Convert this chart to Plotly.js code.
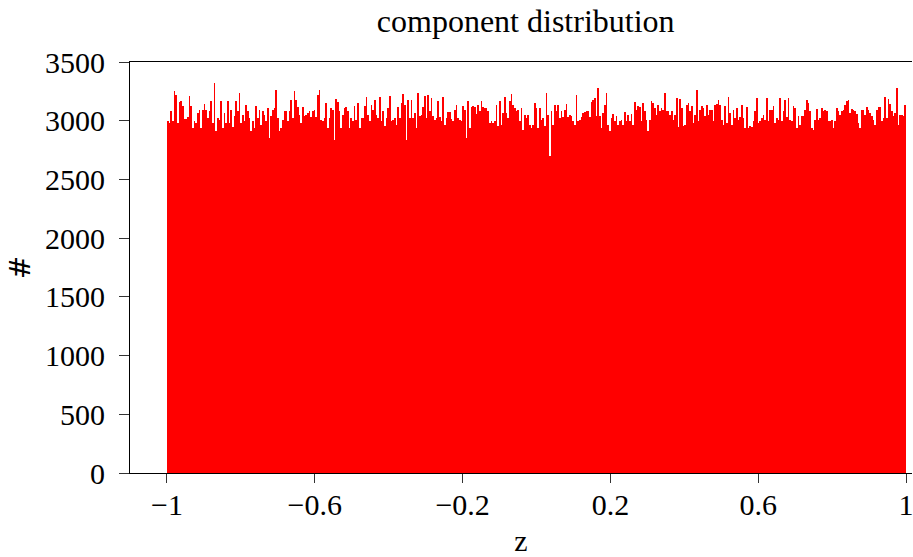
<!DOCTYPE html>
<html>
<head>
<meta charset="utf-8">
<script src="https://cdn.plot.ly/plotly-3.0.1.min.js"></script>
<style>
  html, body { margin: 0; padding: 0; background: #fff; }
  #chart { width: 913px; height: 557px; }
</style>
</head>
<body>
<div id="chart"></div>
<script>
// Histogram range (bin edges span this interval, bins of equal width)
const binStart = -1;
const binEnd = 1;

// Bin counts, left to right
const counts = [
  2995,2981,3080,2995,3251,3222,2981,3160,3165,3123,3018,3018,3029,3208,3123,2938,2995,2981,3066,3094,
  2938,3094,3143,3094,3024,3080,3165,2981,3321,2910,3024,3009,3171,2938,3066,2981,3171,2981,3094,2944,
  3038,3165,3080,3236,2981,3052,2995,3137,3080,3024,2910,2995,2938,3123,3024,3094,2967,3080,3052,2995,
  3109,2853,3038,3094,3109,3265,3024,2910,2938,3009,3080,3080,2995,
  3080,3180,3024,3251,3180,3114,3052,2981,3114,3038,3052,3066,3080,3029,3080,3089,3029,3222,3265,3009,
  2995,3024,3151,2938,3024,3109,3094,2839,3188,3160,3080,2938,3052,3109,3114,3080,2938,3024,2995,3123,
  3009,3151,2938,3024,3024,3123,3199,3052,2995,3131,3094,3180,3052,3024,3199,2995,3080,2953,3024,3109,
  3208,2995,3009,3024,2967,3114,3024,3151,3228,3137,2839,3180,3024,3180,3024,
  3066,2938,3236,3038,3046,3114,3208,3024,3216,3080,3194,3038,3009,3024,3165,3029,2995,3199,2967,3024,
  3075,3075,3018,2995,3094,3137,3024,3009,2995,3123,3094,2853,3171,2938,3114,3123,3114,3058,3131,3080,
  3165,3114,3109,3109,3086,2981,2995,2981,2995,3131,2953,3171,2967,3066,3199,3066,3024,3171,3228,3137,
  3109,3080,3094,2995,3109,2924,3052,3024,3046,2967,2938,2967,3151,3109,2938,
  3109,3009,3024,2953,3236,3052,2697,3086,2967,3137,3080,3137,3024,3080,3029,3094,3143,3029,3046,3038,
  3001,2967,3222,2995,3009,3029,3066,3075,3080,3080,3029,3160,3180,3194,3038,3279,3038,2938,3066,3137,
  3236,2967,2910,3024,3058,2995,3038,2967,2995,3009,2967,3075,2995,3052,2995,3058,2967,3160,3094,3123,
  3114,2995,3151,3080,3009,2910,3009,3171,3151,3109,3052,3137,3080,3109,3094,
  3236,3080,3080,3052,3080,3009,3052,3194,2944,3188,3109,2953,2967,3137,3151,3080,3123,2981,3052,3265,
  2995,3094,3123,3109,3038,3137,3052,3094,3094,2995,3137,3143,3180,3137,3009,2967,3123,2981,3199,3066,
  2967,3094,3024,3109,3009,3029,3131,3024,2938,3114,2938,2953,2944,3001,3080,3194,2981,2995,3024,3052,
  3009,3194,2995,3094,3094,3123,2981,3024,3009,3194,2995,3086,3180,3029,3194,
  3009,2995,3123,3109,2938,3038,2967,3038,3038,3094,3180,3151,3080,2938,2924,3009,3103,3009,3024,3109,
  3080,3094,3080,2995,2995,3009,2938,2995,3109,3080,3052,3080,3094,3131,3165,3180,3066,3103,3094,3080,
  3058,2981,2938,3094,3094,3052,3114,3094,3066,3038,3009,2967,3094,3114,3114,2995,3024,3199,3024,3188,
  3143,3080,3038,3066,3279,2967,3052,3046,3038,3131
];

// Tick values and labels
const xTickVals = [-1, -0.6, -0.2, 0.2, 0.6, 1];
const xTickText = ["\u22121", "\u22120.6", "\u22120.2", "0.2", "0.6", "1"];
const yTickVals = [0, 500, 1000, 1500, 2000, 2500, 3000, 3500];

const titleText = "component distribution";
const xTitle = "z";
const yTitle = "#";

const nBins = counts.length;
const binWidth = (binEnd - binStart) / nBins;
const centers = counts.map((_, i) => binStart + (i + 0.5) * binWidth);

const FONT = "Liberation Serif, Times New Roman, serif";

const trace = {
  type: "bar",
  x: centers,
  y: counts,
  width: binWidth,
  marker: { color: "#ff0000", line: { width: 0 } },
  hoverinfo: "skip"
};

const layout = {
  width: 913,
  height: 557,
  margin: { l: 130, r: 1, t: 62, b: 84 },
  paper_bgcolor: "#ffffff",
  plot_bgcolor: "#ffffff",
  showlegend: false,
  bargap: 0,
  font: { family: FONT, size: 30, color: "#000" },
  title: {
    text: titleText,
    font: { family: FONT, size: 32, color: "#000" },
    x: 0.506, xref: "paper", xanchor: "center",
    y: 0.962, yref: "container", yanchor: "middle"
  },
  xaxis: {
    range: [-1.1, 1.016],
    tickmode: "array",
    tickvals: xTickVals,
    ticktext: xTickText,
    ticks: "outside",
    ticklen: 9,
    tickwidth: 1,
    tickcolor: "#333",
    ticklabeloverflow: "allow",
    ticklabelstandoff: -4,
    showline: true,
    linecolor: "#000",
    linewidth: 1,
    mirror: true,
    showgrid: false,
    zeroline: false,
    tickfont: { family: FONT, size: 30, color: "#000" },
    title: { text: xTitle, font: { family: FONT, size: 30, color: "#000" }, standoff: 10 }
  },
  yaxis: {
    range: [0, 3500],
    tickmode: "array",
    tickvals: yTickVals,
    ticks: "outside",
    ticklen: 10,
    tickwidth: 1,
    tickcolor: "#333",
    ticklabelstandoff: 8,
    showline: true,
    linecolor: "#000",
    linewidth: 1,
    mirror: false,
    showgrid: false,
    zeroline: false,
    tickfont: { family: FONT, size: 30, color: "#000" },
    title: { text: yTitle, font: { family: "DejaVu Serif, serif", size: 28, color: "#000" }, standoff: 6 }
  }
};

Plotly.newPlot("chart", [trace], layout, { displayModeBar: false, staticPlot: true });
</script>
</body>
</html>
